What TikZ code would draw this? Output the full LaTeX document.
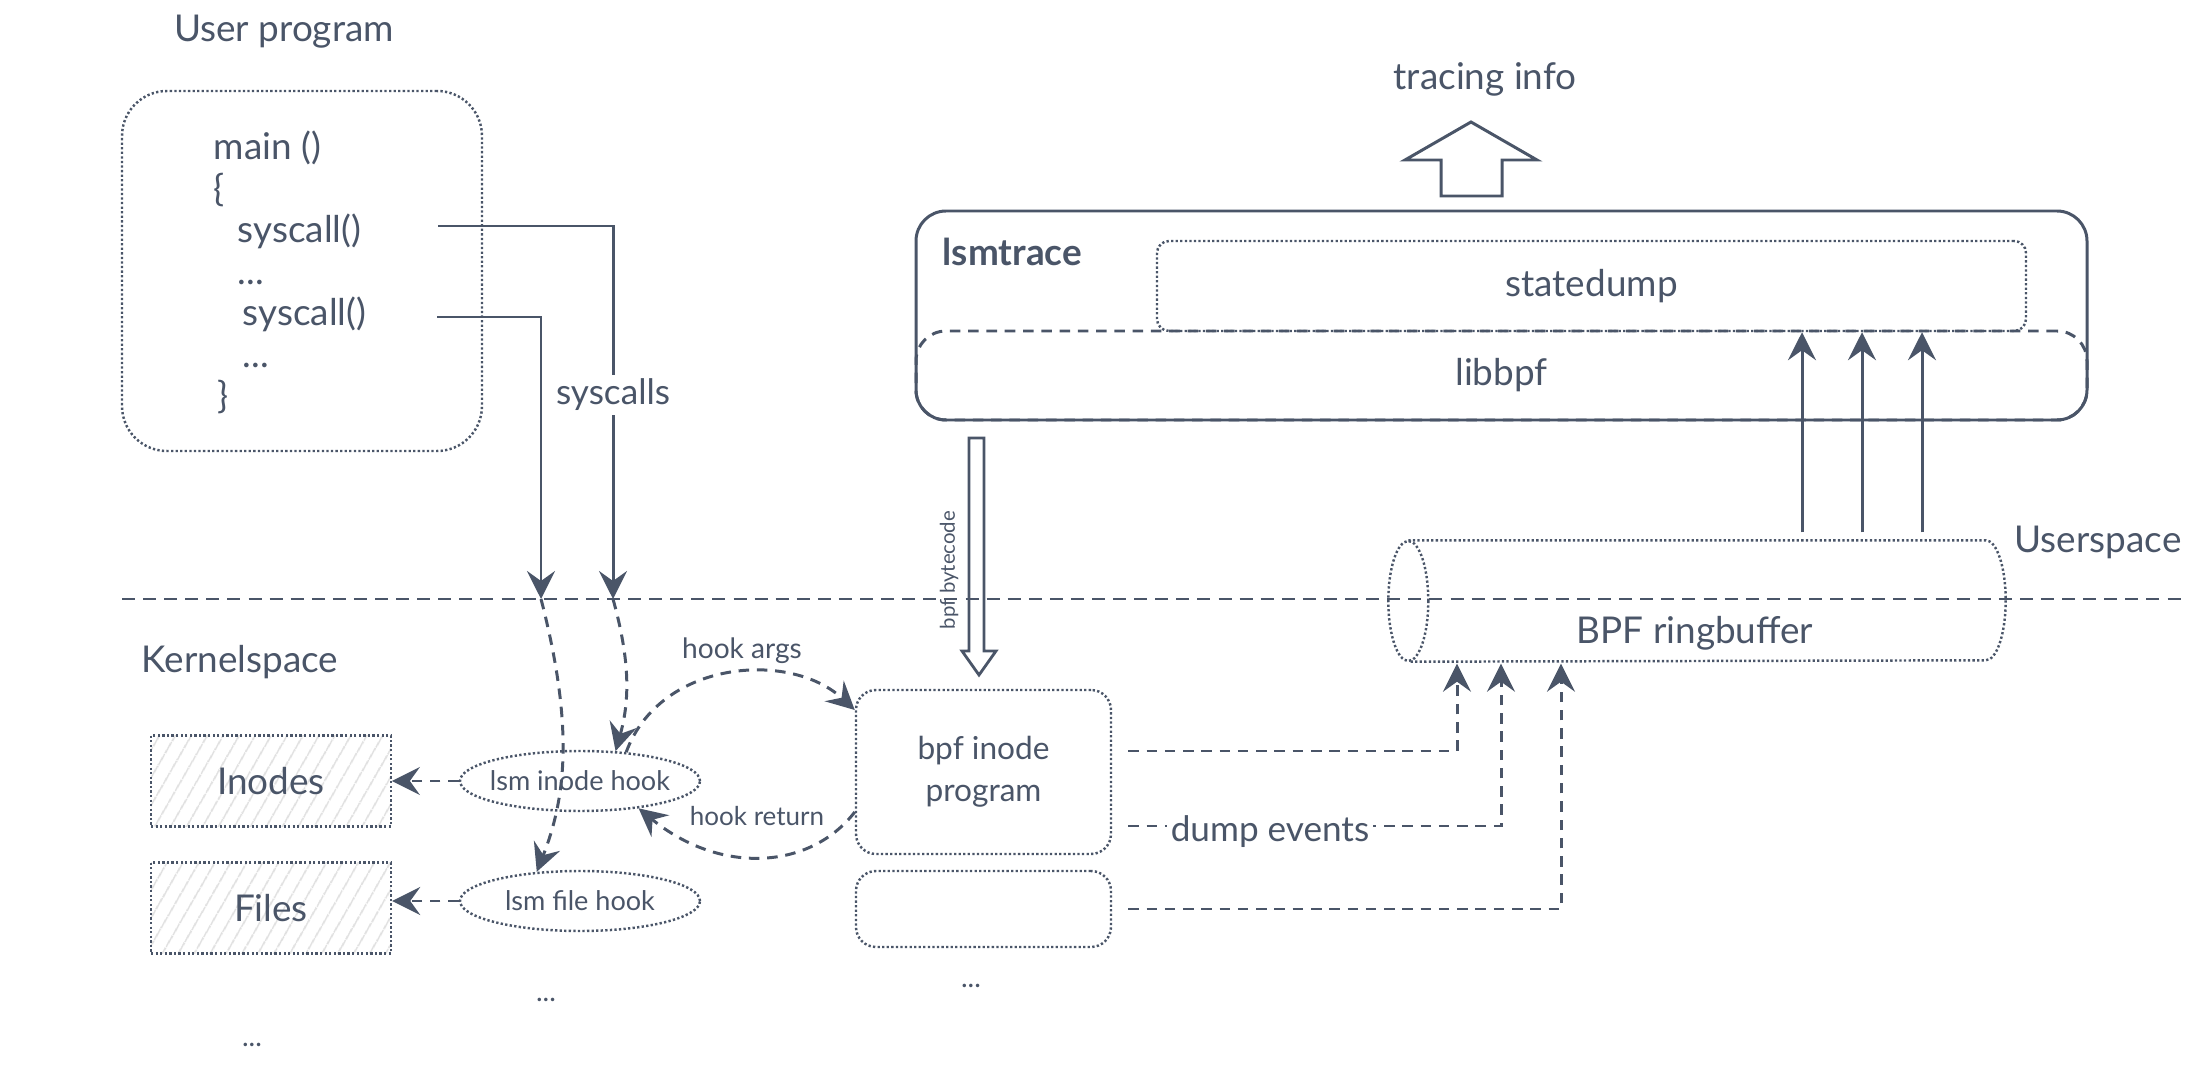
\documentclass[tikz,border=0pt]{standalone}
\usepackage{fontspec}
\setmainfont{Lato}
\usetikzlibrary{arrows.meta,shapes.geometric,patterns.meta}

\definecolor{ink}{RGB}{74,85,104}
\definecolor{hatch}{RGB}{222,222,222}

\tikzset{
  lbl/.style={text=ink, inner sep=0pt, font=\fontsize{10.5}{13}\selectfont},
  code/.style={lbl, anchor=base west},
  dotline/.style={draw=ink, line width=0.7pt, dash pattern=on 0.65pt off 0.65pt},
  dashline/.style={draw=ink, line width=0.85pt, dash pattern=on 3pt off 2.2pt},
  solidline/.style={draw=ink, line width=0.85pt},
  tip/.style={-{Stealth[length=2.8mm, width=2.8mm, inset=1mm]}},
  store/.style={lbl, dotline, minimum width=2.4cm, minimum height=0.91cm,
    pattern={Lines[angle=60, distance=4pt, line width=0.5pt]}, pattern color=hatch},
  hook/.style={ellipse, dotline, minimum width=2.40cm, minimum height=0.60cm, inner xsep=-0.1cm, inner ysep=0pt,
    text=ink, font=\fontsize{7.7}{10}\selectfont},
}

\begin{document}
\begin{tikzpicture}
\useasboundingbox (0,0) rectangle (21.96,-10.86);

\node[lbl] (usertitle) at (2.84,-0.32) {User program};
\node[dotline, rounded corners=0.45cm, minimum width=3.6cm, minimum height=3.6cm] (userbox) at (3.02,-2.71) {};

\node[code] (mainline) at (2.13,-1.60) {main ()};
\node[code] (openbrace) at (2.13,-2.015) {\{};
\node[code] (sc1) at (2.37,-2.43) {syscall()};
\node[code] (dots1) at (2.37,-2.845) {...};
\node[code] (sc2) at (2.42,-3.26) {syscall()};
\node[code] (dots2) at (2.42,-3.675) {...};
\node[code] (closebrace) at (2.17,-4.09) {\}};

\coordinate (k1) at (5.41,-5.99);
\coordinate (k2) at (6.13,-5.99);

\node[lbl, inner ysep=1pt, font=\fontsize{10}{12}\selectfont] (syslbl) at (6.13,-3.95) {syscalls};
\draw[solidline] (4.38,-2.26) -| (syslbl.north);
\draw[solidline, tip] (syslbl.south) -- (k2);
\draw[solidline, tip] (4.37,-3.17) -| (k1);

\draw[dashline, dash pattern=on 3.7pt off 2.3pt] (1.22,-5.99) -- (21.82,-5.99);
\node[lbl] (userspace) at (20.98,-5.42) {Userspace};
\node[lbl] (kernelspace) at (2.40,-6.62) {Kernelspace};

% kernel side
\node[hook] (inodehook) at (5.80,-7.81) {lsm inode hook};
\node[hook] (filehook) at (5.80,-9.01) {lsm file hook};
\node[store] (inodes) at (2.71,-7.81) {Inodes};
\node[store] (files) at (2.71,-9.08) {Files};
\draw[dashline, tip] (inodehook.west) -- (inodes.east);
\draw[dashline, tip] (filehook.west) -- (files.east |- filehook.west);
\node[lbl, font=\fontsize{8}{10}\selectfont] (hookdots) at (5.46,-10.00) {...};
\node[lbl, font=\fontsize{8}{10}\selectfont] (storedots) at (2.52,-10.45) {...};

\draw[dashline, tip] (k1) .. controls (5.75,-7.3) and (5.65,-8.0) .. (filehook.146);
\draw[dashline, tip] (k2) .. controls (6.30,-6.6) and (6.30,-7.0) .. (inodehook.40);

\node[lbl, dotline, rounded corners=0.2cm, minimum width=2.55cm, minimum height=1.64cm, align=center,
  font=\fontsize{9}{12}\selectfont] (bpfinode) at (9.835,-7.72) {bpf inode\\program};
\node[dotline, rounded corners=0.2cm, minimum width=2.55cm, minimum height=0.76cm] (bpfother) at (9.835,-9.09) {};
\node[lbl, font=\fontsize{8}{10}\selectfont] (progdots) at (9.71,-9.86) {...};

\draw[dashline, tip] (inodehook.32) .. controls (6.6,-6.6) and (7.9,-6.5) .. ([yshift=0.62cm]bpfinode.west);
\node[lbl, font=\fontsize{8}{10}\selectfont] (argslbl) at (7.42,-6.51) {hook args};
\draw[dashline, tip] ([yshift=-0.40cm]bpfinode.west) .. controls (8.1,-8.7) and (7.2,-8.75) .. (inodehook.-25);
\node[lbl, font=\fontsize{7.4}{10}\selectfont] (retlbl) at (7.57,-8.16) {hook return};

% lsmtrace
\node[solidline, rounded corners=0.3cm, minimum width=11.71cm, minimum height=2.09cm] (lsmtrace) at (15.015,-3.155) {};
\node[lbl, anchor=west, font=\bfseries\fontsize{10.5}{13}\selectfont] (lsmlbl) at (9.42,-2.52) {lsmtrace};
\node[lbl, dotline, rounded corners=0.12cm, minimum width=8.69cm, minimum height=0.90cm] (statedump) at (15.915,-2.86) {statedump};
\node[lbl, dashline, rounded corners=0.3cm, minimum width=11.71cm, minimum height=0.89cm] (libbpf) at (15.015,-3.755) {libbpf};

\node[lbl] (tracing) at (14.85,-0.79) {tracing info};
\draw[solidline, line join=miter] (14.71,-1.22) -- (15.37,-1.60) -- (15.02,-1.60) -- (15.02,-1.96)
  -- (14.41,-1.96) -- (14.41,-1.60) -- (14.05,-1.60) -- cycle;

\draw[solidline, line width=0.8pt, line join=miter] (9.69,-4.38) -- (9.84,-4.38) -- (9.84,-6.51) -- (9.96,-6.51)
  -- (9.79,-6.75) -- (9.62,-6.51) -- (9.69,-6.51) -- cycle;
\node[lbl, rotate=90, font=\fontsize{5.8}{7}\selectfont] (bytecode) at (9.49,-5.70) {bpf bytecode};

% ring buffer
\node[minimum width=6.16cm, minimum height=1.20cm, inner sep=0pt] (ringbuf) at (16.97,-6.01) {};
\draw[dotline] ([xshift=0.2cm]ringbuf.north west) -- ([xshift=-0.2cm]ringbuf.north east)
  arc[start angle=90, end angle=-90, x radius=0.2cm, y radius=0.6cm] -- ([xshift=0.2cm]ringbuf.south west);
\draw[dotline] ([xshift=0.2cm]ringbuf.west) ellipse [x radius=0.2cm, y radius=0.6cm];
\node[lbl] (ringlbl) at (16.95,-6.33) {BPF ringbuffer};

\foreach \dx [count=\i] in {1.05,1.65,2.25} {
  \coordinate (up\i) at ([xshift=\dx cm, yshift=0.08cm]ringbuf.north);
  \draw[solidline, tip] (up\i) -- (up\i |- statedump.south);
}

\coordinate (rb1) at ([xshift=-2.40cm, yshift=-0.02cm]ringbuf.south);
\coordinate (rb2) at ([xshift=-1.96cm, yshift=-0.02cm]ringbuf.south);
\coordinate (rb3) at ([xshift=-1.36cm, yshift=-0.02cm]ringbuf.south);
\draw[dashline, tip] ([xshift=0.16cm, yshift=0.21cm]bpfinode.east) -| (rb1);
\draw[dashline, tip] ([xshift=0.16cm, yshift=-0.54cm]bpfinode.east) -| (rb2);
\draw[dashline, tip] ([xshift=0.16cm]bpfother.east) -| (rb3);
\node[lbl, fill=white, inner xsep=1pt, font=\fontsize{10}{12}\selectfont] (dumplbl) at (12.70,-8.32) {dump events};

\end{tikzpicture}
\end{document}
